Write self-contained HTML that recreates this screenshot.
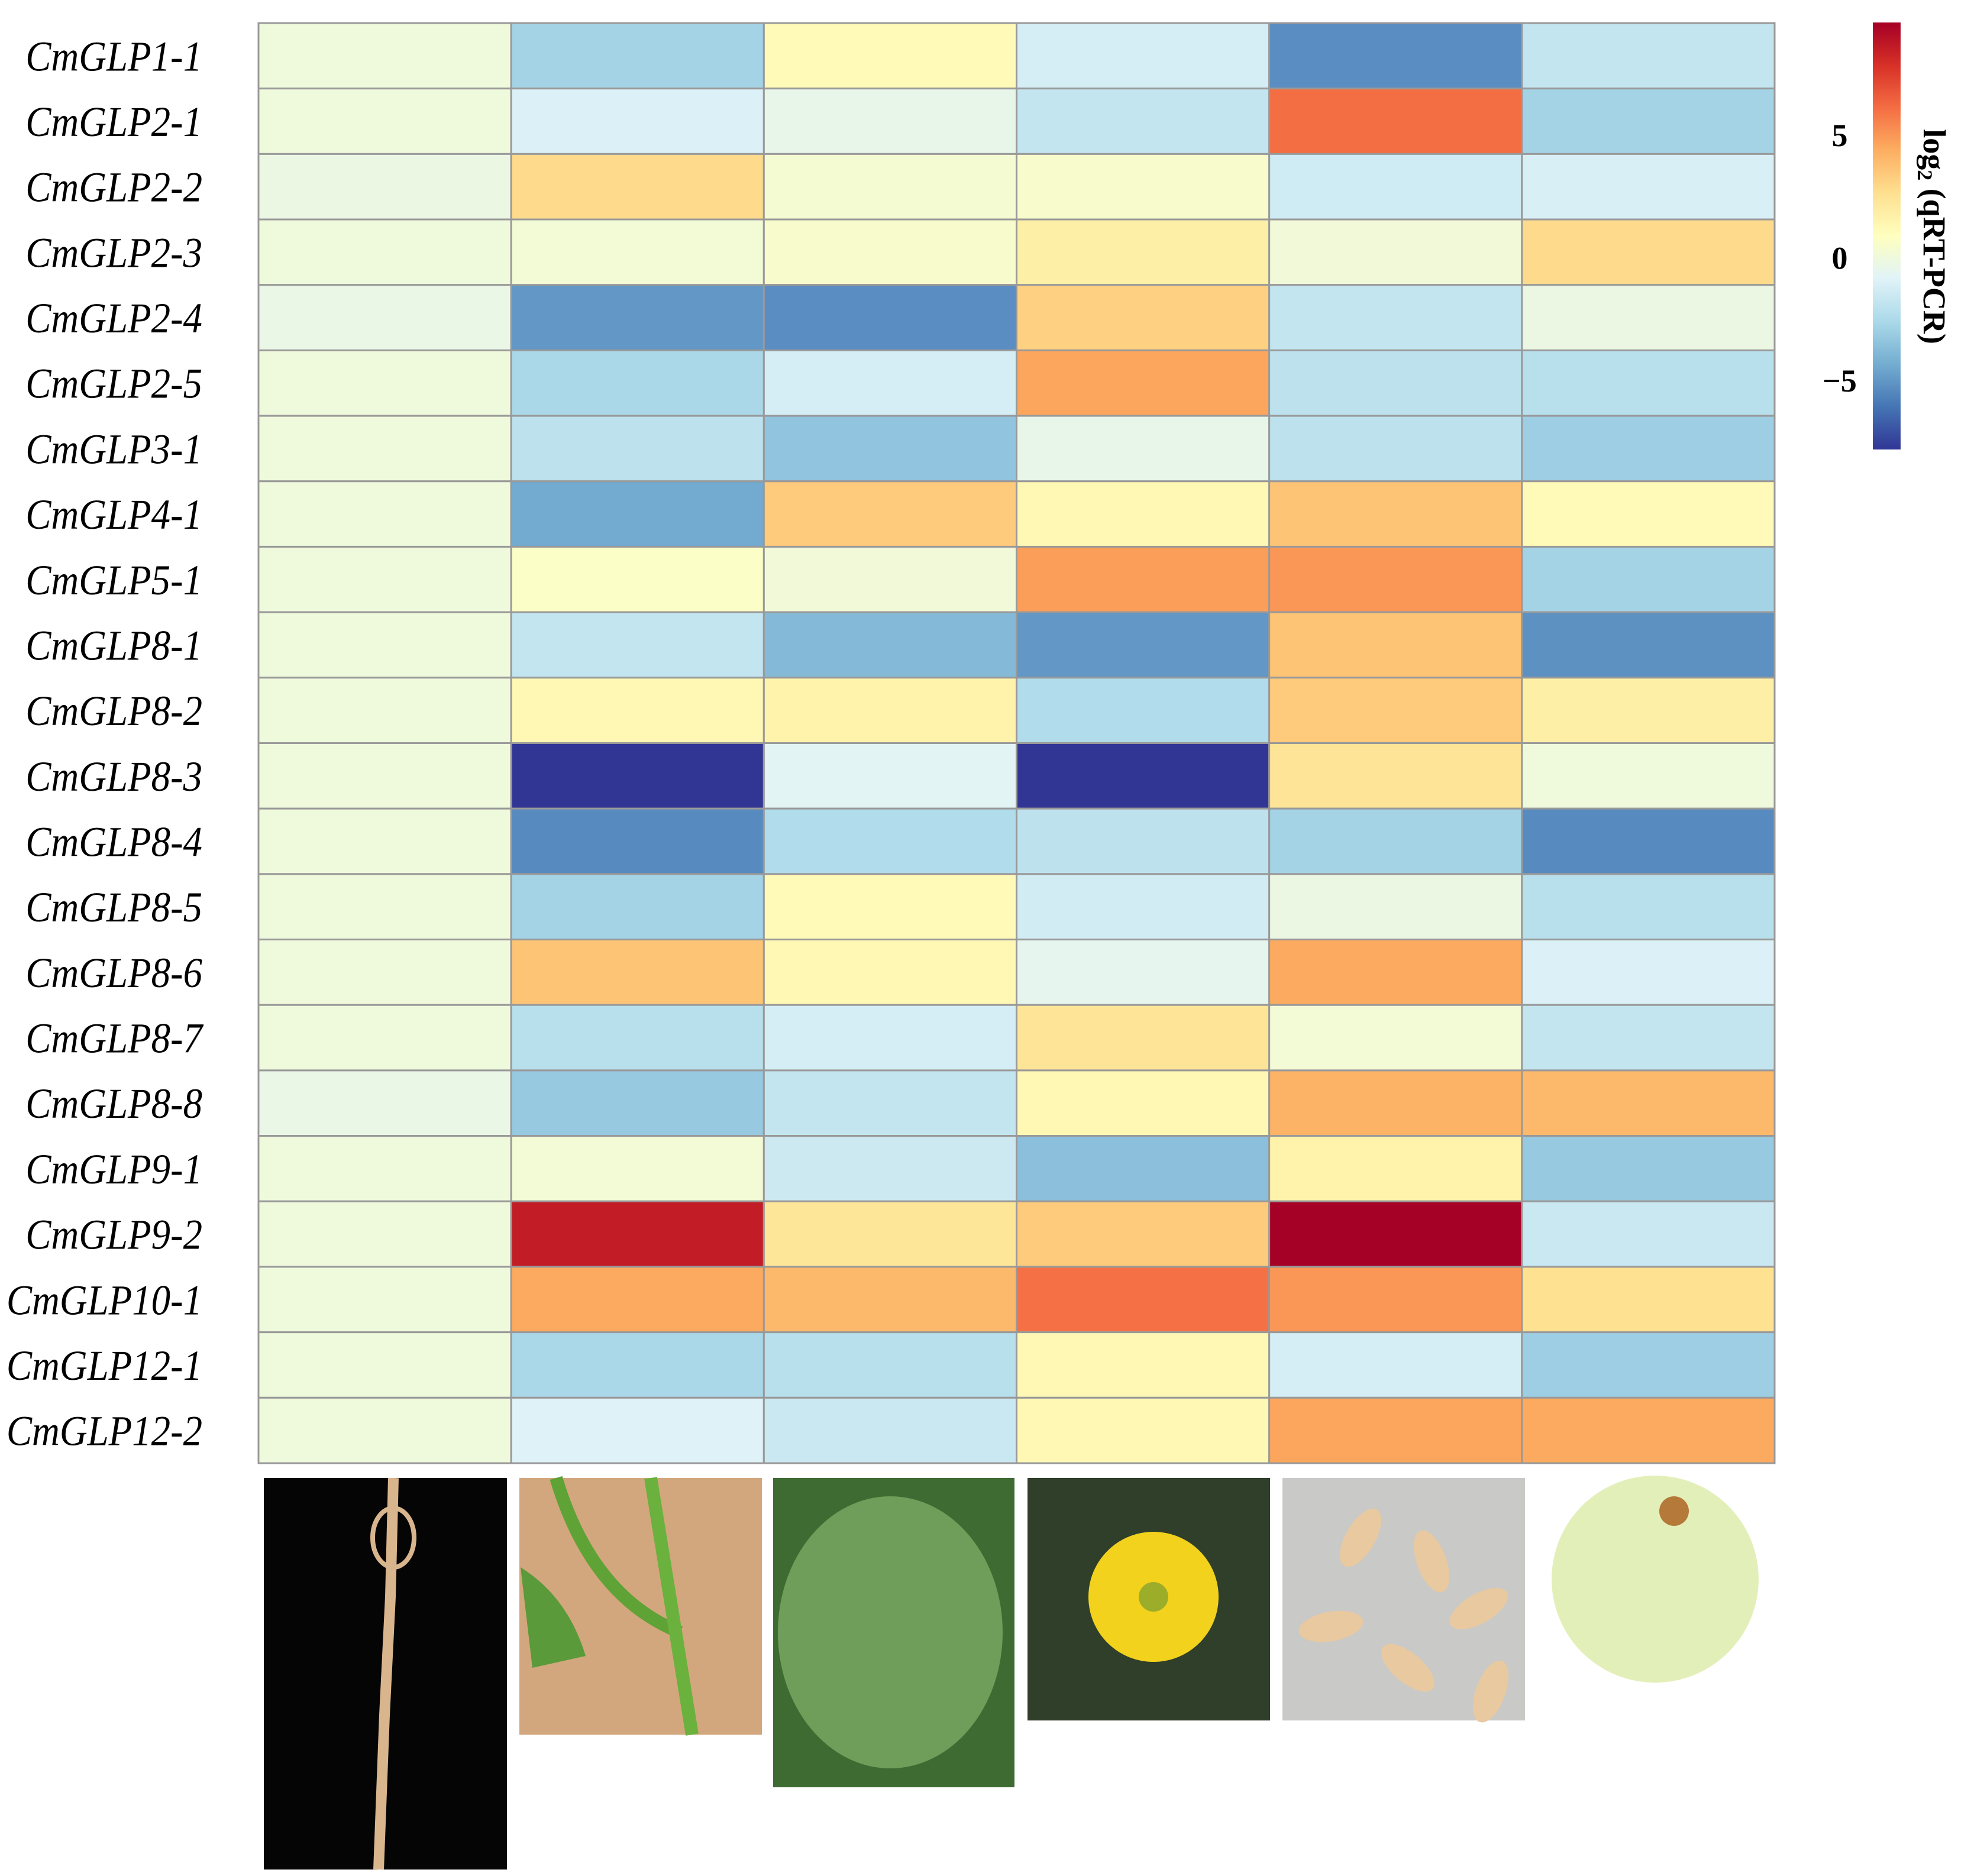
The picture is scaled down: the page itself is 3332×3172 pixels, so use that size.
<!DOCTYPE html>
<html><head><meta charset="utf-8"><style>
html,body{margin:0;padding:0;background:#fff;}
svg{display:block;}
</style></head><body>
<svg id="chart" width="3332" height="3172" xmlns="http://www.w3.org/2000/svg">
<defs>
<linearGradient id="cbar" x1="0" y1="0" x2="0" y2="1">
<stop offset="0" stop-color="#a50026"/><stop offset="0.1" stop-color="#d73027"/><stop offset="0.2" stop-color="#f46d43"/><stop offset="0.3" stop-color="#fdae61"/><stop offset="0.4" stop-color="#fee090"/><stop offset="0.5" stop-color="#ffffbf"/><stop offset="0.6" stop-color="#e0f3f8"/><stop offset="0.7" stop-color="#abd9e9"/><stop offset="0.8" stop-color="#74add1"/><stop offset="0.9" stop-color="#4575b4"/><stop offset="1" stop-color="#313695"/>
</linearGradient>
</defs>
<g id="cells"></g>
<g id="labels"></g>
<g id="legend">
<rect x="3166" y="38" width="47" height="722" fill="url(#cbar)"/>
<g id="cbticks"></g>
<text transform="translate(3252,400) rotate(90)" text-anchor="middle" font-family="Liberation Serif, serif" font-weight="bold" font-size="54">log<tspan font-size="36" dy="10">2</tspan><tspan dy="-10"> (qRT-PCR)</tspan></text>
</g>
<g id="photos">
<rect x="446" y="2499" width="411" height="662" fill="#050505"/>
<path d="M665 2499 L660 2700 L650 2900 L640 3161" stroke="#d9b58e" stroke-width="18" fill="none"/>
<ellipse cx="665" cy="2600" rx="35" ry="50" fill="none" stroke="#d9b58e" stroke-width="8"/>
<rect x="878" y="2499" width="410" height="434" fill="#d3a77d"/>
<path d="M940 2499 Q1000 2700 1150 2760" stroke="#5fa236" stroke-width="22" fill="none"/>
<path d="M1100 2499 L1170 2933" stroke="#6bb13e" stroke-width="22" fill="none"/>
<path d="M880 2650 Q960 2700 990 2800 L900 2820 Z" fill="#5b9a3a"/>
<rect x="1307" y="2499" width="408" height="523" fill="#3e6b32"/>
<ellipse cx="1505" cy="2760" rx="190" ry="230" fill="#6e9e5a"/>
<rect x="1737" y="2499" width="410" height="410" fill="#2f3f2a"/>
<circle cx="1950" cy="2700" r="110" fill="#f2d21c"/>
<circle cx="1950" cy="2700" r="25" fill="#9cad2a"/>
<rect x="2168" y="2499" width="410" height="410" fill="#c9c9c7"/>
<g fill="#e8c9a0">
<ellipse cx="2300" cy="2600" rx="25" ry="55" transform="rotate(30 2300 2600)"/>
<ellipse cx="2420" cy="2640" rx="25" ry="55" transform="rotate(-20 2420 2640)"/>
<ellipse cx="2500" cy="2720" rx="25" ry="55" transform="rotate(60 2500 2720)"/>
<ellipse cx="2250" cy="2750" rx="25" ry="55" transform="rotate(80 2250 2750)"/>
<ellipse cx="2380" cy="2820" rx="25" ry="55" transform="rotate(-50 2380 2820)"/>
<ellipse cx="2520" cy="2860" rx="25" ry="55" transform="rotate(20 2520 2860)"/>
</g>
<circle cx="2798" cy="2670" r="175" fill="#e3efb8"/>
<circle cx="2830" cy="2555" r="25" fill="#b5793a"/>
</g>
</svg>
<script>
const genes=["CmGLP1-1","CmGLP2-1","CmGLP2-2","CmGLP2-3","CmGLP2-4","CmGLP2-5","CmGLP3-1","CmGLP4-1","CmGLP5-1","CmGLP8-1","CmGLP8-2","CmGLP8-3","CmGLP8-4","CmGLP8-5","CmGLP8-6","CmGLP8-7","CmGLP8-8","CmGLP9-1","CmGLP9-2","CmGLP10-1","CmGLP12-1","CmGLP12-2"];
const tissues=["root","stem","leaf","flower","seed","fruit"];
const values=[
[0,-2.8,1.2,-1.2,-5.3,-1.8],
[0,-1.0,-0.4,-1.8,6.1,-2.8],
[-0.2,2.8,0.3,0.5,-1.4,-1.1],
[0,0.2,0.5,1.8,0.1,2.8],
[-0.3,-5.0,-5.3,3.2,-1.8,-0.2],
[0,-2.6,-1.2,4.6,-2.0,-2.2],
[0,-2.0,-3.4,-0.4,-2.0,-3.0],
[0,-4.4,3.4,1.3,3.6,1.2],
[0,0.7,0.1,4.8,5.0,-2.8],
[0,-1.8,-3.8,-5.0,3.6,-5.2],
[0,1.3,1.6,-2.4,3.4,1.8],
[0,-7.8,-0.7,-7.8,2.4,0.0],
[0,-5.4,-2.4,-2.0,-2.8,-5.4],
[0,-2.8,1.2,-1.3,-0.2,-2.2],
[0,3.6,1.3,-0.5,4.5,-1.0],
[0,-2.2,-1.2,2.4,0.2,-1.8],
[-0.3,-3.2,-1.8,1.3,4.2,4.0],
[0,0.2,-1.5,-3.6,1.6,-3.2],
[0,8.6,2.3,3.4,9.6,-1.6],
[0,4.5,4.0,6.0,5.0,2.6],
[0,-2.6,-2.2,1.3,-1.2,-3.0],
[0,-0.9,-1.6,1.3,4.6,4.5]];
const cbTicks=[5,0,-5];
const cbLabels=["5","0","\u22125"];
const vmin=-7.8, vmax=9.6;
const stops=["#a50026","#d73027","#f46d43","#fdae61","#fee090","#ffffbf","#e0f3f8","#abd9e9","#74add1","#4575b4","#313695"];
const X0=437,X1=3000,Y0=39,Y1=2474;
const cw=(X1-X0)/tissues.length, rh=(Y1-Y0)/genes.length;
const xPos=i=>X0+i*cw, yPos=j=>Y0+j*rh;
const cbY=v=>38+(vmax-v)/(vmax-vmin)*722;
function hex(h){return [1,3,5].map(k=>parseInt(h.substr(k,2),16));}
function color(v){let t=(vmax-v)/(vmax-vmin)*10;t=Math.max(0,Math.min(10,t));const i=Math.min(9,Math.floor(t)),f=t-i;const a=hex(stops[i]),b=hex(stops[i+1]);return "rgb("+a.map((c,k)=>Math.round(c+(b[k]-c)*f)).join(",")+")";}
const NS="http://www.w3.org/2000/svg";
const cells=document.getElementById("cells"),labels=document.getElementById("labels"),cbt=document.getElementById("cbticks");
genes.forEach((g,j)=>{
 tissues.forEach((t,i)=>{
  const r=document.createElementNS(NS,"rect");
  r.setAttribute("x",xPos(i));r.setAttribute("y",yPos(j));r.setAttribute("width",cw);r.setAttribute("height",rh);
  r.setAttribute("fill",color(values[j][i]));r.setAttribute("stroke","#999");r.setAttribute("stroke-width","3");
  
  
  cells.appendChild(r);
 });
 const tx=document.createElementNS(NS,"text");
 tx.setAttribute("x",380);tx.setAttribute("y",yPos(j)+rh/2+25);tx.setAttribute("text-anchor","end");
 tx.setAttribute("transform","scale(0.9,1)");
 tx.setAttribute("font-family","Liberation Serif, serif");tx.setAttribute("font-style","italic");tx.setAttribute("font-size","72");
 tx.textContent=g;
 
 
 labels.appendChild(tx);
});
cbTicks.forEach((v,k)=>{
 const tx=document.createElementNS(NS,"text");
 tx.setAttribute("x",3110);tx.setAttribute("y",cbY(v)+18);tx.setAttribute("text-anchor","middle");
 tx.setAttribute("font-family","Liberation Serif, serif");tx.setAttribute("font-weight","bold");tx.setAttribute("font-size","54");
 tx.textContent=cbLabels[k];
 
 
 cbt.appendChild(tx);
});
</script>
</body></html>
